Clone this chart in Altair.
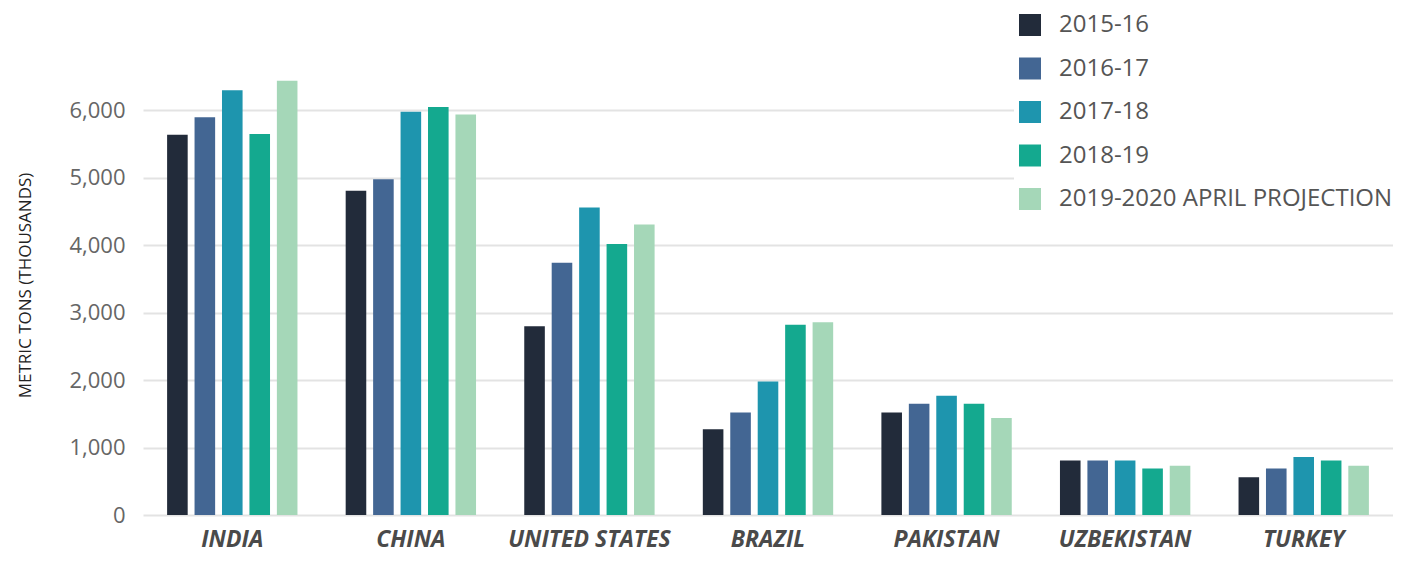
import altair as alt
import pandas as pd

countries = ["INDIA", "CHINA", "UNITED STATES", "BRAZIL", "PAKISTAN", "UZBEKISTAN", "TURKEY"]
seasons = ["2015-16", "2016-17", "2017-18", "2018-19", "2019-2020 APRIL PROJECTION"]
colors = ["#222b3a", "#436693", "#1e95ae", "#14a98f", "#a5d7b8"]

v_2015_16 = [5640, 4810, 2800, 1270, 1520, 810, 560]
v_2016_17 = [5900, 4980, 3740, 1520, 1650, 810, 690]
v_2017_18 = [6300, 5980, 4560, 1980, 1770, 810, 860]
v_2018_19 = [5650, 6050, 4020, 2820, 1650, 690, 810]
v_2019_20 = [6440, 5940, 4310, 2860, 1440, 730, 730]

series = [v_2015_16, v_2016_17, v_2017_18, v_2018_19, v_2019_20]
rows = []
for s, vals in zip(seasons, series):
    for c, v in zip(countries, vals):
        rows.append({"country": c, "season": s, "value": v})
df = pd.DataFrame(rows)

FONT = "Open Sans"

chart = alt.Chart(df).mark_bar().encode(
    x=alt.X("country:N", sort=countries, title=None,
            scale=alt.Scale(paddingInner=0.27, paddingOuter=0.135),
            axis=alt.Axis(labelAngle=0, labelFont=FONT, labelFontSize=23,
                          labelFontWeight="bold", labelFontStyle="italic",
                          labelColor="#4a4a4a", ticks=False, domain=False,
                          labelPadding=13)),
    xOffset=alt.XOffset("season:N", sort=seasons,
                        scale=alt.Scale(paddingInner=0.25, paddingOuter=0)),
    y=alt.Y("value:Q", title="METRIC TONS (THOUSANDS)",
            scale=alt.Scale(domain=[0, 6600], nice=False),
            axis=alt.Axis(values=[0, 1000, 2000, 3000, 4000, 5000, 6000],
                          format=",d", labelFont=FONT, labelFontSize=22,
                          labelColor="#666666", ticks=False, domain=False,
                          labelPadding=18, gridColor="#e3e3e3", gridWidth=2,
                          titleFont=FONT, titleFontSize=17, titleFontWeight="normal",
                          titleColor="#222222", titleY=215, titleX=-109,
                          titleBaseline="bottom")),
    color=alt.Color("season:N", sort=seasons,
                    scale=alt.Scale(domain=seasons, range=colors),
                    legend=alt.Legend(title=None, orient="none", legendX=871, legendY=-61,
                                      symbolType="square", symbolSize=484,
                                      symbolStrokeWidth=0, labelFont=FONT,
                                      labelFontSize=24, labelColor="#555555",
                                      labelOffset=17, rowPadding=19.5,
                                      fillColor="white", padding=4,
                                      labelLimit=400)),
).properties(
    width=1250,
    height=445,
    autosize=alt.AutoSizeParams(type="none"),
    padding={"left": 135, "top": 62, "right": 0, "bottom": 40},
).configure_view(stroke=None)

chart.save("out.html", embed_options={"renderer": "svg", "actions": False})
